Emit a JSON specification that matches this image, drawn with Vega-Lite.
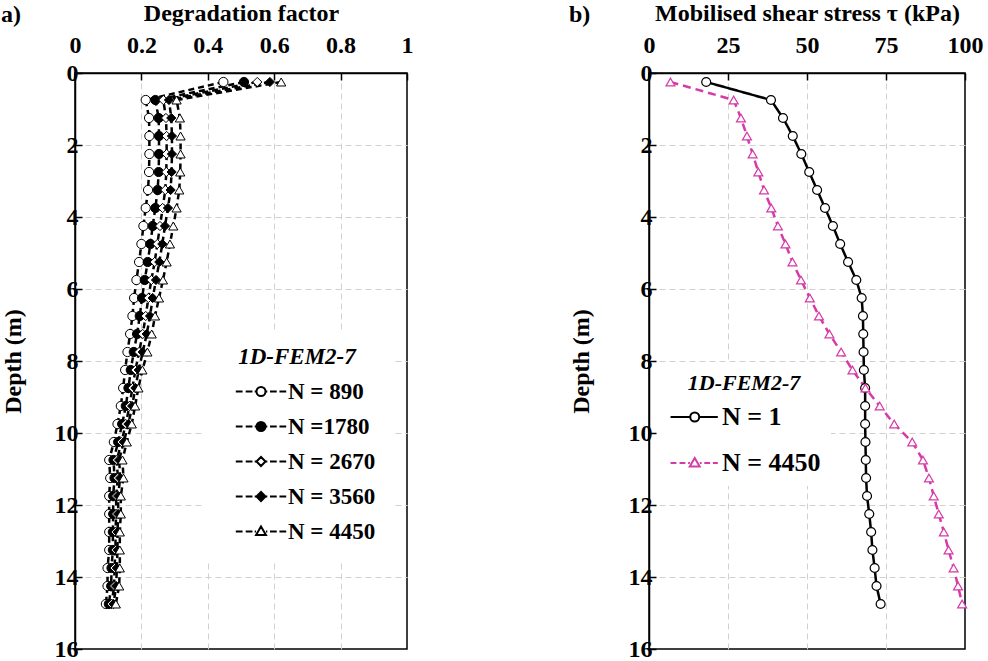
{
  "$schema": "https://vega.github.io/schema/vega-lite/v6.json",
  "padding": {"left": 0, "top": 0, "right": 0, "bottom": 0},
  "spacing": 242,
  "bounds": "flush",
  "resolve": {"scale": {"shape": "independent", "fill": "independent", "stroke": "independent", "color": "independent", "strokeDash": "independent"}, "legend": {"shape": "independent", "fill": "independent", "stroke": "independent"}},
  "datasets": {
    "deg": [
      {"depth":0.25,"df":0.447,"series":"N = 890"},{"depth":0.75,"df":0.213,"series":"N = 890"},{"depth":1.25,"df":0.223,"series":"N = 890"},{"depth":1.75,"df":0.224,"series":"N = 890"},{"depth":2.25,"df":0.224,"series":"N = 890"},{"depth":2.75,"df":0.223,"series":"N = 890"},{"depth":3.25,"df":0.220,"series":"N = 890"},{"depth":3.75,"df":0.213,"series":"N = 890"},{"depth":4.25,"df":0.206,"series":"N = 890"},{"depth":4.75,"df":0.200,"series":"N = 890"},{"depth":5.25,"df":0.193,"series":"N = 890"},{"depth":5.75,"df":0.185,"series":"N = 890"},{"depth":6.25,"df":0.178,"series":"N = 890"},{"depth":6.75,"df":0.173,"series":"N = 890"},{"depth":7.25,"df":0.166,"series":"N = 890"},{"depth":7.75,"df":0.158,"series":"N = 890"},{"depth":8.25,"df":0.151,"series":"N = 890"},{"depth":8.75,"df":0.145,"series":"N = 890"},{"depth":9.25,"df":0.138,"series":"N = 890"},{"depth":9.75,"df":0.128,"series":"N = 890"},{"depth":10.25,"df":0.117,"series":"N = 890"},{"depth":10.75,"df":0.103,"series":"N = 890"},{"depth":11.25,"df":0.106,"series":"N = 890"},{"depth":11.75,"df":0.103,"series":"N = 890"},{"depth":12.25,"df":0.103,"series":"N = 890"},{"depth":12.75,"df":0.103,"series":"N = 890"},{"depth":13.25,"df":0.103,"series":"N = 890"},{"depth":13.75,"df":0.098,"series":"N = 890"},{"depth":14.25,"df":0.098,"series":"N = 890"},{"depth":14.75,"df":0.093,"series":"N = 890"},
      {"depth":0.25,"df":0.509,"series":"N =1780"},{"depth":0.75,"df":0.242,"series":"N =1780"},{"depth":1.25,"df":0.252,"series":"N =1780"},{"depth":1.75,"df":0.253,"series":"N =1780"},{"depth":2.25,"df":0.253,"series":"N =1780"},{"depth":2.75,"df":0.252,"series":"N =1780"},{"depth":3.25,"df":0.249,"series":"N =1780"},{"depth":3.75,"df":0.242,"series":"N =1780"},{"depth":4.25,"df":0.234,"series":"N =1780"},{"depth":4.75,"df":0.227,"series":"N =1780"},{"depth":5.25,"df":0.219,"series":"N =1780"},{"depth":5.75,"df":0.210,"series":"N =1780"},{"depth":6.25,"df":0.202,"series":"N =1780"},{"depth":6.75,"df":0.195,"series":"N =1780"},{"depth":7.25,"df":0.187,"series":"N =1780"},{"depth":7.75,"df":0.177,"series":"N =1780"},{"depth":8.25,"df":0.168,"series":"N =1780"},{"depth":8.75,"df":0.161,"series":"N =1780"},{"depth":9.25,"df":0.153,"series":"N =1780"},{"depth":9.75,"df":0.142,"series":"N =1780"},{"depth":10.25,"df":0.130,"series":"N =1780"},{"depth":10.75,"df":0.116,"series":"N =1780"},{"depth":11.25,"df":0.119,"series":"N =1780"},{"depth":11.75,"df":0.115,"series":"N =1780"},{"depth":12.25,"df":0.115,"series":"N =1780"},{"depth":12.75,"df":0.114,"series":"N =1780"},{"depth":13.25,"df":0.114,"series":"N =1780"},{"depth":13.75,"df":0.110,"series":"N =1780"},{"depth":14.25,"df":0.109,"series":"N =1780"},{"depth":14.75,"df":0.102,"series":"N =1780"},
      {"depth":0.25,"df":0.549,"series":"N = 2670"},{"depth":0.75,"df":0.266,"series":"N = 2670"},{"depth":1.25,"df":0.274,"series":"N = 2670"},{"depth":1.75,"df":0.276,"series":"N = 2670"},{"depth":2.25,"df":0.276,"series":"N = 2670"},{"depth":2.75,"df":0.275,"series":"N = 2670"},{"depth":3.25,"df":0.272,"series":"N = 2670"},{"depth":3.75,"df":0.264,"series":"N = 2670"},{"depth":4.25,"df":0.256,"series":"N = 2670"},{"depth":4.75,"df":0.248,"series":"N = 2670"},{"depth":5.25,"df":0.240,"series":"N = 2670"},{"depth":5.75,"df":0.230,"series":"N = 2670"},{"depth":6.25,"df":0.221,"series":"N = 2670"},{"depth":6.75,"df":0.213,"series":"N = 2670"},{"depth":7.25,"df":0.204,"series":"N = 2670"},{"depth":7.75,"df":0.193,"series":"N = 2670"},{"depth":8.25,"df":0.182,"series":"N = 2670"},{"depth":8.75,"df":0.173,"series":"N = 2670"},{"depth":9.25,"df":0.164,"series":"N = 2670"},{"depth":9.75,"df":0.153,"series":"N = 2670"},{"depth":10.25,"df":0.140,"series":"N = 2670"},{"depth":10.75,"df":0.126,"series":"N = 2670"},{"depth":11.25,"df":0.129,"series":"N = 2670"},{"depth":11.75,"df":0.124,"series":"N = 2670"},{"depth":12.25,"df":0.124,"series":"N = 2670"},{"depth":12.75,"df":0.122,"series":"N = 2670"},{"depth":13.25,"df":0.122,"series":"N = 2670"},{"depth":13.75,"df":0.119,"series":"N = 2670"},{"depth":14.25,"df":0.118,"series":"N = 2670"},{"depth":14.75,"df":0.110,"series":"N = 2670"},
      {"depth":0.25,"df":0.587,"series":"N = 3560"},{"depth":0.75,"df":0.283,"series":"N = 3560"},{"depth":1.25,"df":0.290,"series":"N = 3560"},{"depth":1.75,"df":0.292,"series":"N = 3560"},{"depth":2.25,"df":0.292,"series":"N = 3560"},{"depth":2.75,"df":0.291,"series":"N = 3560"},{"depth":3.25,"df":0.288,"series":"N = 3560"},{"depth":3.75,"df":0.280,"series":"N = 3560"},{"depth":4.25,"df":0.271,"series":"N = 3560"},{"depth":4.75,"df":0.263,"series":"N = 3560"},{"depth":5.25,"df":0.254,"series":"N = 3560"},{"depth":5.75,"df":0.244,"series":"N = 3560"},{"depth":6.25,"df":0.234,"series":"N = 3560"},{"depth":6.75,"df":0.226,"series":"N = 3560"},{"depth":7.25,"df":0.216,"series":"N = 3560"},{"depth":7.75,"df":0.204,"series":"N = 3560"},{"depth":8.25,"df":0.192,"series":"N = 3560"},{"depth":8.75,"df":0.182,"series":"N = 3560"},{"depth":9.25,"df":0.172,"series":"N = 3560"},{"depth":9.75,"df":0.161,"series":"N = 3560"},{"depth":10.25,"df":0.147,"series":"N = 3560"},{"depth":10.75,"df":0.133,"series":"N = 3560"},{"depth":11.25,"df":0.136,"series":"N = 3560"},{"depth":11.75,"df":0.130,"series":"N = 3560"},{"depth":12.25,"df":0.130,"series":"N = 3560"},{"depth":12.75,"df":0.128,"series":"N = 3560"},{"depth":13.25,"df":0.128,"series":"N = 3560"},{"depth":13.75,"df":0.126,"series":"N = 3560"},{"depth":14.25,"df":0.124,"series":"N = 3560"},{"depth":14.75,"df":0.116,"series":"N = 3560"},
      {"depth":0.25,"df":0.621,"series":"N = 4450"},{"depth":0.75,"df":0.306,"series":"N = 4450"},{"depth":1.25,"df":0.316,"series":"N = 4450"},{"depth":1.75,"df":0.318,"series":"N = 4450"},{"depth":2.25,"df":0.318,"series":"N = 4450"},{"depth":2.75,"df":0.317,"series":"N = 4450"},{"depth":3.25,"df":0.314,"series":"N = 4450"},{"depth":3.75,"df":0.306,"series":"N = 4450"},{"depth":4.25,"df":0.296,"series":"N = 4450"},{"depth":4.75,"df":0.286,"series":"N = 4450"},{"depth":5.25,"df":0.276,"series":"N = 4450"},{"depth":5.75,"df":0.265,"series":"N = 4450"},{"depth":6.25,"df":0.253,"series":"N = 4450"},{"depth":6.75,"df":0.241,"series":"N = 4450"},{"depth":7.25,"df":0.231,"series":"N = 4450"},{"depth":7.75,"df":0.218,"series":"N = 4450"},{"depth":8.25,"df":0.203,"series":"N = 4450"},{"depth":8.75,"df":0.191,"series":"N = 4450"},{"depth":9.25,"df":0.181,"series":"N = 4450"},{"depth":9.75,"df":0.171,"series":"N = 4450"},{"depth":10.25,"df":0.156,"series":"N = 4450"},{"depth":10.75,"df":0.143,"series":"N = 4450"},{"depth":11.25,"df":0.146,"series":"N = 4450"},{"depth":11.75,"df":0.138,"series":"N = 4450"},{"depth":12.25,"df":0.138,"series":"N = 4450"},{"depth":12.75,"df":0.135,"series":"N = 4450"},{"depth":13.25,"df":0.135,"series":"N = 4450"},{"depth":13.75,"df":0.135,"series":"N = 4450"},{"depth":14.25,"df":0.133,"series":"N = 4450"},{"depth":14.75,"df":0.123,"series":"N = 4450"}
    ],
    "tau": [
      {"depth":0.25,"tau":18.1,"series":"N = 1"},{"depth":0.75,"tau":38.6,"series":"N = 1"},{"depth":1.25,"tau":42.4,"series":"N = 1"},{"depth":1.75,"tau":45.5,"series":"N = 1"},{"depth":2.25,"tau":48.2,"series":"N = 1"},{"depth":2.75,"tau":50.7,"series":"N = 1"},{"depth":3.25,"tau":53.2,"series":"N = 1"},{"depth":3.75,"tau":55.7,"series":"N = 1"},{"depth":4.25,"tau":58.2,"series":"N = 1"},{"depth":4.75,"tau":60.5,"series":"N = 1"},{"depth":5.25,"tau":63.0,"series":"N = 1"},{"depth":5.75,"tau":65.6,"series":"N = 1"},{"depth":6.25,"tau":67.3,"series":"N = 1"},{"depth":6.75,"tau":67.7,"series":"N = 1"},{"depth":7.25,"tau":67.8,"series":"N = 1"},{"depth":7.75,"tau":67.9,"series":"N = 1"},{"depth":8.25,"tau":68.0,"series":"N = 1"},{"depth":8.75,"tau":68.4,"series":"N = 1"},{"depth":9.25,"tau":68.4,"series":"N = 1"},{"depth":9.75,"tau":68.4,"series":"N = 1"},{"depth":10.25,"tau":68.5,"series":"N = 1"},{"depth":10.75,"tau":68.6,"series":"N = 1"},{"depth":11.25,"tau":68.7,"series":"N = 1"},{"depth":11.75,"tau":69.0,"series":"N = 1"},{"depth":12.25,"tau":69.7,"series":"N = 1"},{"depth":12.75,"tau":70.3,"series":"N = 1"},{"depth":13.25,"tau":70.7,"series":"N = 1"},{"depth":13.75,"tau":71.4,"series":"N = 1"},{"depth":14.25,"tau":72.0,"series":"N = 1"},{"depth":14.75,"tau":73.3,"series":"N = 1"},
      {"depth":0.25,"tau":6.8,"series":"N = 4450"},{"depth":0.75,"tau":26.8,"series":"N = 4450"},{"depth":1.25,"tau":29.1,"series":"N = 4450"},{"depth":1.75,"tau":31.0,"series":"N = 4450"},{"depth":2.25,"tau":32.8,"series":"N = 4450"},{"depth":2.75,"tau":34.6,"series":"N = 4450"},{"depth":3.25,"tau":36.4,"series":"N = 4450"},{"depth":3.75,"tau":38.7,"series":"N = 4450"},{"depth":4.25,"tau":40.8,"series":"N = 4450"},{"depth":4.75,"tau":43.2,"series":"N = 4450"},{"depth":5.25,"tau":45.4,"series":"N = 4450"},{"depth":5.75,"tau":48.1,"series":"N = 4450"},{"depth":6.25,"tau":50.9,"series":"N = 4450"},{"depth":6.75,"tau":53.8,"series":"N = 4450"},{"depth":7.25,"tau":57.1,"series":"N = 4450"},{"depth":7.75,"tau":60.8,"series":"N = 4450"},{"depth":8.25,"tau":64.4,"series":"N = 4450"},{"depth":8.75,"tau":68.5,"series":"N = 4450"},{"depth":9.25,"tau":73.0,"series":"N = 4450"},{"depth":9.75,"tau":77.6,"series":"N = 4450"},{"depth":10.25,"tau":83.3,"series":"N = 4450"},{"depth":10.75,"tau":86.7,"series":"N = 4450"},{"depth":11.25,"tau":88.6,"series":"N = 4450"},{"depth":11.75,"tau":90.1,"series":"N = 4450"},{"depth":12.25,"tau":91.7,"series":"N = 4450"},{"depth":12.75,"tau":93.3,"series":"N = 4450"},{"depth":13.25,"tau":94.8,"series":"N = 4450"},{"depth":13.75,"tau":96.4,"series":"N = 4450"},{"depth":14.25,"tau":97.8,"series":"N = 4450"},{"depth":14.75,"tau":99.1,"series":"N = 4450"}
    ]
  },
  "hconcat": [
    {
      "width": 332,
      "height": 576,
      "title": {"text": "a)", "anchor": "start", "frame": "bounds", "offset": -50, "baseline": "bottom", "fontSize": 24, "fontWeight": "bold", "font": "Liberation Serif", "color": "black"},
      "data": {"name": "deg"},
      "resolve": {"scale": {"shape": "independent", "fill": "independent", "stroke": "independent"}, "legend": {"shape": "independent", "fill": "independent", "stroke": "independent"}},
      "encoding": {
        "x": {"field": "df", "type": "quantitative", "scale": {"domain": [0, 1]},
              "axis": {"orient": "top", "title": "Degradation factor", "values": [0, 0.2, 0.4, 0.6, 0.8, 1], "format": "~g", "titlePadding": 8, "labelPadding": 23,
                       "gridColor": {"condition": {"test": "datum.value == 0 || datum.value == 1", "value": "transparent"}, "value": "#d0d0d0"}}},
        "y": {"field": "depth", "type": "quantitative", "scale": {"domain": [0, 16], "reverse": true},
              "axis": {"title": "Depth (m)", "values": [0, 2, 4, 6, 8, 10, 12, 14, 16], "minExtent": 40, "maxExtent": 40, "titlePadding": 10, "labelPadding": 4,
                       "gridColor": {"condition": {"test": "datum.value == 0 || datum.value == 16", "value": "transparent"}, "value": "#d0d0d0"}}}
      },
      "layer": [
        {
          "mark": {"type": "line", "color": "black", "strokeWidth": 2.5, "strokeDash": [6, 4]},
          "encoding": {"detail": {"field": "series"}, "order": {"field": "depth", "type": "quantitative"}}
        },
        {
          "mark": {"type": "point", "filled": true, "size": 85, "stroke": "black", "strokeWidth": 1, "opacity": 1},
          "encoding": {
            "fill": {"field": "series", "type": "nominal", "scale": {"domain": ["N = 890", "N =1780", "N = 2670", "N = 3560", "N = 4450"], "range": ["white", "black", "white", "black", "white"]}, "legend": null},
            "shape": {"field": "series", "type": "nominal", "scale": {"domain": ["N = 890", "N =1780", "N = 2670", "N = 3560", "N = 4450"], "range": ["circle", "circle", "diamond", "diamond", "triangle-up"]}, "legend": null}
          }
        },
        {
          "transform": [{"filter": "datum.depth < 0"}],
          "mark": {"type": "point", "filled": true, "size": 81, "strokeWidth": 2, "opacity": 1},
          "encoding": {
            "fill": {"field": "series", "type": "nominal", "scale": {"domain": ["N = 890", "N =1780", "N = 2670", "N = 3560", "N = 4450"], "range": ["white", "black", "white", "black", "white"]},
              "legend": {"title": "1D-FEM2-7", "orient": "none", "legendX": 127, "legendY": 257, "padding": 16, "rowPadding": 11, "titlePadding": 11, "labelOffset": 47, "symbolSize": 81, "symbolStrokeWidth": 2, "symbolOpacity": 1,
                "titleAnchor": "middle", "titleFontSize": 23, "titleFontStyle": "italic", "titleFontWeight": "bold", "titleFont": "Liberation Serif", "titleColor": "black",
                "labelFontSize": 23, "labelFontWeight": "bold", "labelFont": "Liberation Serif", "labelColor": "black", "fillColor": "white"}},
            "stroke": {"field": "series", "type": "nominal", "scale": {"domain": ["N = 890", "N =1780", "N = 2670", "N = 3560", "N = 4450"], "range": ["black", "black", "black", "black", "black"]},
              "legend": {"title": "1D-FEM2-7", "orient": "none", "legendX": 127, "legendY": 257, "padding": 16, "rowPadding": 11, "titlePadding": 11, "labelOffset": 47, "symbolSize": 81, "symbolStrokeWidth": 2, "symbolOpacity": 1,
                "titleAnchor": "middle", "titleFontSize": 23, "titleFontStyle": "italic", "titleFontWeight": "bold", "titleFont": "Liberation Serif", "titleColor": "black",
                "labelFontSize": 23, "labelFontWeight": "bold", "labelFont": "Liberation Serif", "labelColor": "black", "fillColor": "white"}},
            "shape": {"field": "series", "type": "nominal", "scale": {"domain": ["N = 890", "N =1780", "N = 2670", "N = 3560", "N = 4450"],
                "range": [
                  "M1.4,0H2.9M3.6,0H5.1M5.6,0H6M8,0H8.4M9,0H10.5M11.1,0H12.6M8,0A1,1 0 1,1 6,0A1,1 0 1,1 8,0Z",
                  "M1.4,0H2.9M3.6,0H5.1M5.6,0H6M8,0H8.4M9,0H10.5M11.1,0H12.6M8,0A1,1 0 1,1 6,0A1,1 0 1,1 8,0Z",
                  "M1.4,0H2.9M3.6,0H5.1M5.6,0H6M8,0H8.4M9,0H10.5M11.1,0H12.6M6,0L7,-1L8,0L7,1Z",
                  "M1.4,0H2.9M3.6,0H5.1M5.6,0H6M8,0H8.4M9,0H10.5M11.1,0H12.6M6,0L7,-1L8,0L7,1Z",
                  "M1.4,0H2.9M3.6,0H5.1M5.6,0H5.9M8.1,0H8.4M9,0H10.5M11.1,0H12.6M7,-1.1L8.1,0.8L5.9,0.8Z"
                ]},
              "legend": {"title": "1D-FEM2-7", "orient": "none", "legendX": 127, "legendY": 257, "padding": 16, "rowPadding": 11, "titlePadding": 11, "labelOffset": 47, "symbolSize": 81, "symbolStrokeWidth": 2, "symbolOpacity": 1,
                "titleAnchor": "middle", "titleFontSize": 23, "titleFontStyle": "italic", "titleFontWeight": "bold", "titleFont": "Liberation Serif", "titleColor": "black",
                "labelFontSize": 23, "labelFontWeight": "bold", "labelFont": "Liberation Serif", "labelColor": "black", "fillColor": "white"}}
          }
        }
      ]
    },
    {
      "width": 316,
      "height": 576,
      "title": {"text": "b)", "anchor": "start", "frame": "bounds", "offset": -50, "baseline": "bottom", "fontSize": 24, "fontWeight": "bold", "font": "Liberation Serif", "color": "black"},
      "data": {"name": "tau"},
      "resolve": {"scale": {"shape": "independent", "stroke": "independent"}, "legend": {"shape": "independent", "stroke": "independent"}},
      "encoding": {
        "x": {"field": "tau", "type": "quantitative", "scale": {"domain": [0, 100]},
              "axis": {"orient": "top", "title": "Mobilised shear stress τ (kPa)", "values": [0, 25, 50, 75, 100], "titlePadding": 8, "labelPadding": 23,
                       "gridColor": {"condition": {"test": "datum.value == 0 || datum.value == 100", "value": "transparent"}, "value": "#d0d0d0"}}},
        "y": {"field": "depth", "type": "quantitative", "scale": {"domain": [0, 16], "reverse": true},
              "axis": {"title": "Depth (m)", "values": [0, 2, 4, 6, 8, 10, 12, 14, 16], "minExtent": 40, "maxExtent": 40, "titlePadding": 16, "labelPadding": 4,
                       "gridColor": {"condition": {"test": "datum.value == 0 || datum.value == 16", "value": "transparent"}, "value": "#d0d0d0"}}}
      },
      "layer": [
        {
          "mark": {"type": "line", "strokeWidth": 2.5},
          "encoding": {
            "color": {"field": "series", "type": "nominal", "scale": {"domain": ["N = 1", "N = 4450"], "range": ["black", "#d63aa8"]}, "legend": null},
            "strokeDash": {"field": "series", "type": "nominal", "scale": {"domain": ["N = 1", "N = 4450"], "range": [[1, 0], [8, 5]]}, "legend": null},
            "order": {"field": "depth", "type": "quantitative"}
          }
        },
        {
          "mark": {"type": "point", "filled": true, "size": 80, "fill": "white", "strokeWidth": 1.2, "opacity": 1},
          "encoding": {
            "stroke": {"field": "series", "type": "nominal", "scale": {"domain": ["N = 1", "N = 4450"], "range": ["black", "#d63aa8"]}, "legend": null},
            "shape": {"field": "series", "type": "nominal", "scale": {"domain": ["N = 1", "N = 4450"], "range": ["circle", "triangle-up"]}, "legend": null}
          }
        },
        {
          "transform": [{"filter": "datum.depth < 0"}],
          "mark": {"type": "point", "filled": true, "size": 81, "fill": "white", "strokeWidth": 2, "opacity": 1},
          "encoding": {
            "stroke": {"field": "series", "type": "nominal", "scale": {"domain": ["N = 1", "N = 4450"], "range": ["black", "#d63aa8"]},
              "legend": {"title": "1D-FEM2-7", "orient": "none", "legendX": 8, "legendY": 290, "padding": 10, "rowPadding": 20, "titlePadding": 9, "labelOffset": 29, "symbolSize": 81, "symbolStrokeWidth": 2, "symbolFillColor": "white", "symbolOpacity": 1,
                "titleAnchor": "middle", "titleFontSize": 22, "titleFontStyle": "italic", "titleFontWeight": "bold", "titleFont": "Liberation Serif", "titleColor": "black",
                "labelFontSize": 26, "labelFontWeight": "bold", "labelFont": "Liberation Serif", "labelColor": "black", "fillColor": "white"}},
            "shape": {"field": "series", "type": "nominal", "scale": {"domain": ["N = 1", "N = 4450"],
                "range": [
                  "M-2.1,0H2.27M4.27,0H8.4M4.27,0A1,1 0 1,1 2.27,0A1,1 0 1,1 4.27,0Z",
                  "M-2.1,0H-0.8M-0.1,0H1.2M1.8,0H2.2M4.4,0H4.8M5.4,0H6.7M7.3,0H8.4M3.27,-1.1L4.37,0.8L2.17,0.8Z"
                ]},
              "legend": {"title": "1D-FEM2-7", "orient": "none", "legendX": 8, "legendY": 290, "padding": 10, "rowPadding": 20, "titlePadding": 9, "labelOffset": 29, "symbolSize": 81, "symbolStrokeWidth": 2, "symbolFillColor": "white", "symbolOpacity": 1,
                "titleAnchor": "middle", "titleFontSize": 22, "titleFontStyle": "italic", "titleFontWeight": "bold", "titleFont": "Liberation Serif", "titleColor": "black",
                "labelFontSize": 26, "labelFontWeight": "bold", "labelFont": "Liberation Serif", "labelColor": "black", "fillColor": "white"}}
          }
        }
      ]
    }
  ],
  "config": {
    "font": "Liberation Serif",
    "view": {"stroke": "black", "strokeWidth": 1.5},
    "axis": {
      "labelFontSize": 24, "labelFontWeight": "bold", "labelColor": "black", "labelFont": "Liberation Serif", "labelFlush": false,
      "titleFontSize": 24, "titleFontWeight": "bold", "titleColor": "black", "titleFont": "Liberation Serif",
      "domainColor": "black", "domainWidth": 1.5, "tickColor": "black", "tickWidth": 1.5, "tickSize": -7, "labelPadding": 8,
      "gridDash": [6, 4], "gridWidth": 1
    }
  }
}
